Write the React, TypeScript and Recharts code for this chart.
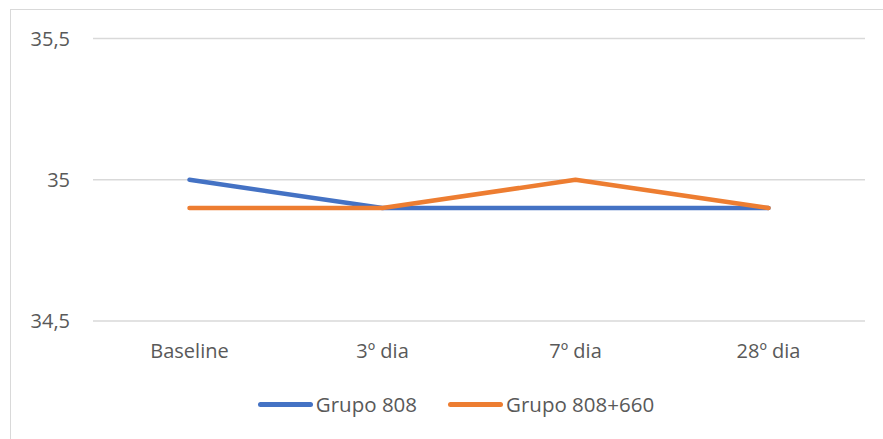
import { LineChart, Line, XAxis, YAxis, CartesianGrid, Legend } from "recharts";

const categories = ["Baseline", "3º dia", "7º dia", "28º dia"];
const grupo808 = [35, 34.9, 34.9, 34.9];
const grupo808660 = [34.9, 34.9, 35, 34.9];
const yTicks = [34.5, 35, 35.5];

const data = categories.map((c, i) => ({
  name: c,
  g808: grupo808[i],
  g808660: grupo808660[i],
}));

const FONT = "'Open Sans', sans-serif";
const TEXT = "#595959";

function LegendContent(props: any) {
  const items = props.payload || [];
  return (
    <div
      style={{
        display: "flex",
        justifyContent: "center",
        alignItems: "center",
        height: "100%",
        fontFamily: FONT,
        fontSize: 20.5,
        color: TEXT,
      }}
    >
      {items.map((it: any, i: number) => (
        <div
          key={it.value}
          style={{ display: "flex", alignItems: "center", marginLeft: i ? 31 : 0 }}
        >
          <span
            style={{
              display: "inline-block",
              width: 55,
              height: 5,
              borderRadius: 3,
              background: it.color,
              marginRight: 3,
            }}
          />
          <span>{it.value}</span>
        </div>
      ))}
    </div>
  );
}

export default function App() {
  return (
    <div
      style={{
        position: "fixed",
        left: 10,
        top: 9,
        width: 890,
        height: 440,
        border: "1px solid #d9d9d9",
        background: "#fff",
      }}
    >
      <LineChart
        width={890}
        height={430}
        data={data}
        margin={{ top: 28.5, right: 36, left: 0, bottom: 41 }}
      >
        <CartesianGrid vertical={false} stroke="#d9d9d9" strokeWidth={1.5} />
        <XAxis
          dataKey="name"
          axisLine={false}
          tickLine={false}
          tickSize={0}
          tickMargin={23}
          height={50}
          padding={{ left: 96.5, right: 96.5 }}
          tick={{ fill: TEXT, fontSize: 20, fontFamily: FONT }}
        />
        <YAxis
          domain={[34.5, 35.5]}
          ticks={yTicks}
          width={82}
          axisLine={false}
          tickLine={false}
          tickSize={0}
          tickMargin={23}
          tickFormatter={(v: number) => String(v).replace(".", ",")}
          tick={{ fill: TEXT, fontSize: 20, fontFamily: FONT }}
        />
        <Legend
          verticalAlign="bottom"
          content={LegendContent}
          wrapperStyle={{ top: 380, left: 0, width: 890, height: 28 }}
        />
        <Line
          dataKey="g808"
          name="Grupo 808"
          stroke="#4472C4"
          strokeWidth={4.5}
          strokeLinecap="round"
          strokeLinejoin="round"
          dot={false}
          isAnimationActive={false}
        />
        <Line
          dataKey="g808660"
          name="Grupo 808+660"
          stroke="#ED7D31"
          strokeWidth={4.5}
          strokeLinecap="round"
          strokeLinejoin="round"
          dot={false}
          isAnimationActive={false}
        />
      </LineChart>
    </div>
  );
}
